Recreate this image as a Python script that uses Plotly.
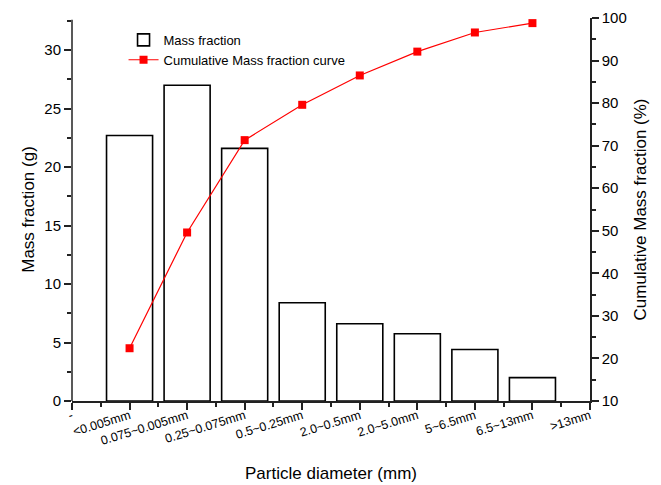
import plotly.graph_objects as go

tick_labels = ["-", "<0.005mm", "0.075~0.005mm", "0.25~0.075mm", "0.5~0.25mm",
               "2.0~0.5mm", "2.0~5.0mm", "5~6.5mm", "6.5~13mm", ">13mm"]
tick_positions = [0, 1, 2, 3, 4, 5, 6, 7, 8, 9]
bar_positions = [1, 2, 3, 4, 5, 6, 7, 8]
mass_fraction = [22.7, 27.0, 21.6, 8.4, 6.6, 5.75, 4.4, 2.0]
cumulative = [22.4, 49.6, 71.3, 79.6, 86.5, 92.1, 96.6, 98.8]

FONT = "Arial, Liberation Sans, sans-serif"
AX = "#222222"

fig = go.Figure()
fig.add_trace(go.Bar(
    x=bar_positions, y=mass_fraction, width=0.8,
    marker=dict(color="white", line=dict(color="black", width=1.6)),
    name="Mass fraction", yaxis="y",
))
fig.add_trace(go.Scatter(
    x=bar_positions, y=cumulative, mode="lines+markers",
    line=dict(color="#ff0000", width=1.2),
    marker=dict(symbol="square", size=8, color="#ff0000"),
    name="Cumulative Mass fraction curve", yaxis="y2",
))

# page body has an 8px default margin, so the figure is 8px smaller and margins compensate
fig.update_layout(
    width=653, height=477,
    margin=dict(l=64, r=71, t=10, b=84),
    paper_bgcolor="white", plot_bgcolor="white",
    font=dict(family=FONT, size=15, color="black"),
    showlegend=True,
    legend=dict(x=0.0995, y=0.982, xanchor="left", yanchor="top",
                bgcolor="rgba(0,0,0,0)", font=dict(size=13), tracegroupgap=0),
    xaxis=dict(
        range=[0, 9], tickmode="array", tickvals=tick_positions, ticktext=tick_labels,
        tickangle=-17, tickfont=dict(size=12.5), ticklabelstandoff=-6,
        automargin=False, ticklabeloverflow="allow",
        showline=True, linecolor=AX, linewidth=1.5,
        ticks="outside", ticklen=7, tickwidth=1.5, tickcolor=AX,
        minor=dict(tickmode="linear", tick0=0, dtick=0.5, ticks="outside", ticklen=4, tickwidth=1.5, tickcolor=AX),
        showgrid=False, zeroline=False,
        title=dict(text="Particle diameter (mm)", font=dict(size=17), standoff=20),
    ),
    yaxis=dict(
        range=[0, 32.75], tick0=0, dtick=5,
        showline=False, automargin=False, ticklabeloverflow="allow",
        ticks="outside", ticklen=7, tickwidth=1.5, tickcolor=AX,
        minor=dict(dtick=2.5, ticks="outside", ticklen=4, tickwidth=1.5, tickcolor=AX),
        showgrid=False, zeroline=False,
        title=dict(text="Mass fraction (g)", font=dict(size=17), standoff=5),
    ),
    yaxis2=dict(
        range=[10, 100], tick0=10, dtick=10, overlaying="y", side="right", anchor="x",
        showline=True, linecolor=AX, linewidth=1.5, automargin=False,
        ticklabeloverflow="allow",
        ticks="outside", ticklen=7, tickwidth=1.5, tickcolor=AX,
        minor=dict(dtick=5, ticks="outside", ticklen=4, tickwidth=1.5, tickcolor=AX),
        showgrid=False, zeroline=False,
        title=dict(text="Cumulative Mass fraction (%)", font=dict(size=17), standoff=8),
    ),
    shapes=[dict(type="line", xref="paper", yref="y", x0=0, x1=0, y0=0, y1=32.6,
                 line=dict(color=AX, width=1.5), layer="above")],
)

fig.write_html("out.html")
